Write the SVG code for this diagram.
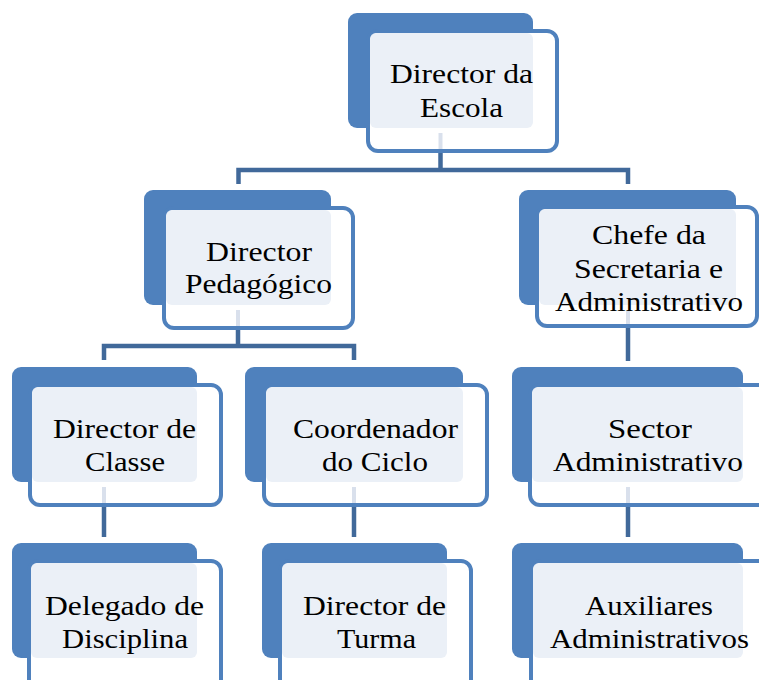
<svg xmlns="http://www.w3.org/2000/svg" width="759" height="680" viewBox="0 0 759 680">
<style>
.back{fill:#4F81BD}
.front{fill:#FFFFFF;stroke:#4F81BD;stroke-width:4}
.light{fill:#EBF0F7}
.stub{stroke:#D9E0EC;stroke-width:4}
.conn{stroke:#41699A;stroke-width:4.5;fill:none}
text{font-family:"Liberation Serif","Times New Roman",serif;font-size:28px;fill:#000;text-anchor:middle}
</style>
<rect width="759" height="680" fill="#FFFFFF"/>
<g id="connectors">
<path class="conn" d="M440.5,153 V170 M238.5,184 V170 H628 V184"/>
<path class="conn" d="M238,330 V346 M104,360 V346 H354 V360"/>
<path class="conn" d="M628,328 V361"/>
<path class="conn" d="M104,507 V537"/>
<path class="conn" d="M354,507 V537"/>
<path class="conn" d="M628,507 V537"/>
</g>
<g id="n-director-escola">
<rect class="back" x="348" y="13" width="185" height="115" rx="9"/>
<rect class="front" x="368" y="31" width="189" height="120" rx="10"/>
<rect class="light" x="370" y="33" width="163" height="95" rx="6"/>
<line class="stub" x1="440.5" y1="133" x2="440.5" y2="149"/>
<text x="461.5" y="83" textLength="143" lengthAdjust="spacingAndGlyphs">Director da</text>
<text x="461.5" y="117" textLength="83" lengthAdjust="spacingAndGlyphs">Escola</text>
</g>
<g id="n-director-pedagogico">
<rect class="back" x="144" y="190" width="187" height="115" rx="9"/>
<rect class="front" x="164" y="208" width="189" height="120" rx="10"/>
<rect class="light" x="166" y="210" width="165" height="95" rx="6"/>
<line class="stub" x1="238" y1="310" x2="238" y2="326"/>
<text x="259" y="261" textLength="106" lengthAdjust="spacingAndGlyphs">Director</text>
<text x="258.5" y="293" textLength="147" lengthAdjust="spacingAndGlyphs">Pedagógico</text>
</g>
<g id="n-chefe-secretaria">
<rect class="back" x="519" y="190" width="217" height="115" rx="9"/>
<rect class="front" x="537" y="207" width="220" height="119" rx="10"/>
<rect class="light" x="539" y="209" width="197" height="96" rx="6"/>
<line class="stub" x1="628" y1="310" x2="628" y2="324"/>
<text x="649" y="244" textLength="114" lengthAdjust="spacingAndGlyphs">Chefe da</text>
<text x="648.5" y="278" textLength="149" lengthAdjust="spacingAndGlyphs">Secretaria e</text>
<text x="649" y="311" textLength="188" lengthAdjust="spacingAndGlyphs">Administrativo</text>
</g>
<g id="n-director-classe">
<rect class="back" x="12" y="367" width="185" height="115" rx="9"/>
<rect class="front" x="30" y="385" width="191" height="120" rx="10"/>
<rect class="light" x="32" y="387" width="165" height="95" rx="6"/>
<line class="stub" x1="104" y1="487" x2="104" y2="503"/>
<text x="124.5" y="438" textLength="143" lengthAdjust="spacingAndGlyphs">Director de</text>
<text x="125" y="471" textLength="80" lengthAdjust="spacingAndGlyphs">Classe</text>
</g>
<g id="n-coordenador-ciclo">
<rect class="back" x="245" y="367" width="218" height="115" rx="9"/>
<rect class="front" x="264" y="385" width="223" height="120" rx="10"/>
<rect class="light" x="266" y="387" width="197" height="95" rx="6"/>
<line class="stub" x1="354" y1="487" x2="354" y2="503"/>
<text x="375.5" y="438" textLength="165" lengthAdjust="spacingAndGlyphs">Coordenador</text>
<text x="375" y="471" textLength="106" lengthAdjust="spacingAndGlyphs">do Ciclo</text>
</g>
<g id="n-sector-administrativo">
<rect class="back" x="512" y="367" width="231" height="115" rx="9"/>
<rect class="front" x="530" y="385" width="240" height="120" rx="10"/>
<rect class="light" x="532" y="387" width="211" height="95" rx="6"/>
<line class="stub" x1="628" y1="487" x2="628" y2="503"/>
<text x="650" y="438" textLength="84" lengthAdjust="spacingAndGlyphs">Sector</text>
<text x="648" y="471" textLength="190" lengthAdjust="spacingAndGlyphs">Administrativo</text>
</g>
<g id="n-delegado-disciplina">
<rect class="back" x="12" y="543" width="185" height="115" rx="9"/>
<rect class="front" x="29" y="561" width="192" height="130" rx="10"/>
<rect class="light" x="31" y="563" width="166" height="95" rx="6"/>
<text x="124.5" y="615" textLength="159" lengthAdjust="spacingAndGlyphs">Delegado de</text>
<text x="125" y="648" textLength="126" lengthAdjust="spacingAndGlyphs">Disciplina</text>
</g>
<g id="n-director-turma">
<rect class="back" x="262" y="543" width="185" height="115" rx="9"/>
<rect class="front" x="280" y="561" width="191" height="130" rx="10"/>
<rect class="light" x="282" y="563" width="165" height="95" rx="6"/>
<text x="374.5" y="615" textLength="143" lengthAdjust="spacingAndGlyphs">Director de</text>
<text x="376.5" y="648" textLength="79" lengthAdjust="spacingAndGlyphs">Turma</text>
</g>
<g id="n-auxiliares-administrativos">
<rect class="back" x="512" y="543" width="231" height="115" rx="9"/>
<rect class="front" x="531" y="561" width="240" height="130" rx="10"/>
<rect class="light" x="533" y="563" width="210" height="95" rx="6"/>
<text x="649" y="615" textLength="128" lengthAdjust="spacingAndGlyphs">Auxiliares</text>
<text x="649.5" y="648" textLength="199" lengthAdjust="spacingAndGlyphs">Administrativos</text>
</g>
</svg>
